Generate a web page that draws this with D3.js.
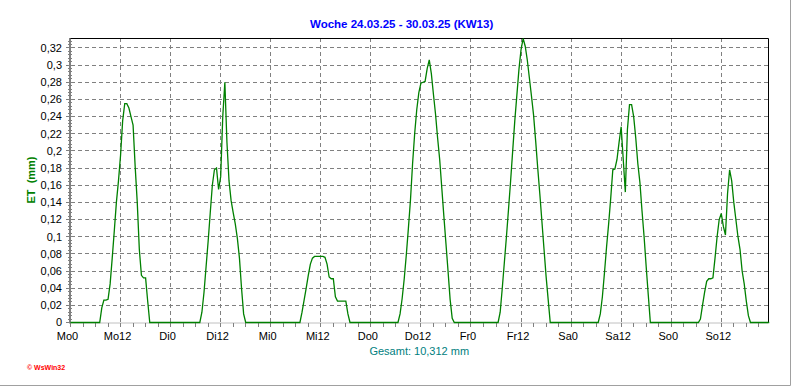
<!DOCTYPE html>
<html>
<head>
<meta charset="utf-8">
<script src="https://cdn.jsdelivr.net/npm/d3@7"></script>
<style>
  body { margin: 0; background: #fff; }
  text { font-family: "Liberation Sans", Arial, sans-serif; }
</style>
</head>
<body>
<svg id="et-chart"></svg>
<script>
// chart data (ET in mm, half-hour values, starting at riseHour of each day)
const dayNames = ["Mo", "Di", "Mi", "Do", "Fr", "Sa", "So"];
const tickHours = [0, 12];
const riseHour = [7, 7, 7, 6.5, 6.5, 6.5, 6.5];

const etMo = [0, 0.017, 0.026, 0.026, 0.027, 0.045, 0.075, 0.107, 0.14, 0.165, 0.195, 0.235, 0.255, 0.255, 0.25, 0.24, 0.23, 0.182, 0.14, 0.085, 0.055, 0.052, 0.052, 0.025, 0];
const etDi = [0, 0.012, 0.035, 0.065, 0.095, 0.128, 0.16, 0.178, 0.18, 0.155, 0.17, 0.24, 0.28, 0.21, 0.165, 0.142, 0.128, 0.115, 0.098, 0.075, 0.04, 0.01, 0];
const etMi = [0, 0.012, 0.026, 0.04, 0.055, 0.068, 0.075, 0.077, 0.077, 0.077, 0.077, 0.077, 0.076, 0.068, 0.053, 0.051, 0.051, 0.03, 0.025, 0.025, 0.025, 0.025, 0.025, 0.01, 0];
const etDo = [0, 0.01, 0.028, 0.051, 0.079, 0.11, 0.143, 0.185, 0.22, 0.248, 0.268, 0.279, 0.28, 0.281, 0.296, 0.306, 0.29, 0.266, 0.243, 0.215, 0.19, 0.157, 0.124, 0.092, 0.06, 0.027, 0.005, 0];
const etFr = [0, 0.012, 0.04, 0.07, 0.1, 0.132, 0.165, 0.2, 0.235, 0.265, 0.295, 0.318, 0.331, 0.322, 0.306, 0.285, 0.264, 0.242, 0.212, 0.18, 0.15, 0.118, 0.086, 0.054, 0.027, 0];
const etSa = [0, 0.01, 0.03, 0.058, 0.088, 0.115, 0.145, 0.178, 0.179, 0.19, 0.21, 0.228, 0.19, 0.152, 0.225, 0.254, 0.254, 0.24, 0.215, 0.185, 0.163, 0.13, 0.1, 0.065, 0.032, 0];
const etSo = [0, 0.004, 0.02, 0.035, 0.048, 0.051, 0.051, 0.052, 0.075, 0.1, 0.12, 0.127, 0.112, 0.102, 0.15, 0.178, 0.165, 0.14, 0.12, 0.1, 0.085, 0.06, 0.045, 0.025, 0.008, 0];

const yTickValues = [0, 0.02, 0.04, 0.06, 0.08, 0.1, 0.12, 0.14, 0.16, 0.18, 0.2, 0.22, 0.24, 0.26, 0.28, 0.3, 0.32];
const titleText = "Woche 24.03.25 - 30.03.25 (KW13)";
const totalText = "Gesamt: 10,312 mm";
const yLabel = "ET  (mm)";

// canvas
const width = 792;
const height = 387;
const plotLeft = 70.5;
const plotRight = 768;
const plotTop = 38;
const plotBottom = 322.5;

const svg = d3.select("#et-chart")
    .attr("width", width)
    .attr("height", height);

svg.append("rect")
    .attr("width", width)
    .attr("height", height)
    .attr("fill", "#fff");

// build the half-hour series for the week
const dayValues = [etMo, etDi, etMi, etDo, etFr, etSa, etSo];
const series = [];
dayValues.forEach((vals, d) => {
    for (let j = 0; j < 48; j++) {
        const idx = j - riseHour[d] * 2;
        const v = (idx >= 0 && idx < vals.length) ? vals[idx] : 0;
        series.push({ hour: d * 24 + j / 2, et: v });
    }
});

// scales
const xScale = d3.scaleLinear()
    .domain([0, 167.2])
    .range([plotLeft, plotRight]);

const yScale = d3.scaleLinear()
    .domain([0, 0.3316])
    .range([plotBottom, plotTop]);

const fmt = d3.formatLocale({ decimal: ",", thousands: ".", grouping: [3], currency: ["", ""] }).format("~g");

// grid
const grid = svg.append("g").attr("class", "grid")
    .attr("stroke", "#808080")
    .attr("stroke-dasharray", "4,3")
    .attr("shape-rendering", "crispEdges");

grid.selectAll(".hgrid")
    .data(yTickValues.filter(d => d > 0))
    .enter()
    .append("line")
    .attr("x1", plotLeft)
    .attr("x2", plotRight)
    .attr("y1", d => yScale(d))
    .attr("y2", d => yScale(d));

const xTicks = [];
dayNames.forEach((name, d) => tickHours.forEach(h => xTicks.push({ hour: d * 24 + h, label: name + h })));

grid.selectAll(".vgrid")
    .data(xTicks.filter(d => d.hour > 0))
    .enter()
    .append("line")
    .attr("x1", d => xScale(d.hour))
    .attr("x2", d => xScale(d.hour))
    .attr("y1", plotTop)
    .attr("y2", plotBottom);

// x axis (gray dotted) with small ticks every 3 h
svg.append("line")
    .attr("x1", plotLeft)
    .attr("x2", plotRight)
    .attr("y1", plotBottom + 0.5)
    .attr("y2", plotBottom + 0.5)
    .attr("stroke", "#808080")
    .attr("stroke-dasharray", "1,1");

svg.selectAll(".xminor")
    .data(d3.range(0, 168, 3))
    .enter()
    .append("line")
    .attr("x1", d => xScale(d))
    .attr("x2", d => xScale(d))
    .attr("y1", plotBottom)
    .attr("y2", plotBottom + 4)
    .attr("stroke", "#808080")
    .attr("shape-rendering", "crispEdges");

// y axis with minor ticks
svg.append("line")
    .attr("x1", plotLeft - 0.5)
    .attr("x2", plotLeft - 0.5)
    .attr("y1", plotTop)
    .attr("y2", plotBottom + 1)
    .attr("stroke", "#808080")
    .attr("stroke-width", 2);

svg.selectAll(".yminor")
    .data(d3.range(0, 0.332, 0.004))
    .enter()
    .append("line")
    .attr("x1", plotLeft - 3)
    .attr("x2", plotLeft + 1)
    .attr("y1", d => yScale(d))
    .attr("y2", d => yScale(d))
    .attr("stroke", "#808080")
    .attr("shape-rendering", "crispEdges");

svg.selectAll(".ymajor")
    .data(yTickValues)
    .enter()
    .append("line")
    .attr("x1", plotLeft - 5)
    .attr("x2", plotLeft)
    .attr("y1", d => yScale(d))
    .attr("y2", d => yScale(d))
    .attr("stroke", "#808080")
    .attr("shape-rendering", "crispEdges");

// frame top / right
svg.append("path")
    .attr("d", `M${plotLeft},${plotTop + 0.5}H${plotRight + 0.5}V${plotBottom}`)
    .attr("fill", "none")
    .attr("stroke", "#000");

// ET line
const line = d3.line()
    .x(d => xScale(d.hour))
    .y(d => yScale(d.et));

svg.append("path")
    .datum(series)
    .attr("fill", "none")
    .attr("stroke", "#008000")
    .attr("stroke-width", 1.3)
    .attr("d", line);

// tick labels
svg.selectAll(".ylabel")
    .data(yTickValues)
    .enter()
    .append("text")
    .attr("x", 62)
    .attr("y", d => yScale(d))
    .attr("dy", "0.35em")
    .attr("text-anchor", "end")
    .style("font-size", "11px")
    .style("fill", "#000")
    .text(d => fmt(d));

svg.selectAll(".xlabel")
    .data(xTicks)
    .enter()
    .append("text")
    .attr("x", d => xScale(d.hour) - 3)
    .attr("y", 340)
    .attr("text-anchor", "middle")
    .style("font-size", "11px")
    .style("fill", "#000")
    .text(d => d.label);

// title, axis title, total
svg.append("text")
    .attr("x", 310)
    .attr("y", 28)
    .style("font-size", "11.5px")
    .style("font-weight", "bold")
    .style("fill", "#0000ff")
    .text(titleText);

svg.append("text")
    .attr("transform", "translate(35,180) rotate(-90)")
    .attr("text-anchor", "middle")
    .style("font-size", "11px")
    .style("font-weight", "bold")
    .style("white-space", "pre")
    .style("fill", "#008000")
    .text(yLabel);

svg.append("text")
    .attr("x", (plotLeft + plotRight) / 2)
    .attr("y", 355)
    .attr("text-anchor", "middle")
    .style("font-size", "11px")
    .style("fill", "#008080")
    .text(totalText);

svg.append("text")
    .attr("x", 27)
    .attr("y", 369.5)
    .style("font-size", "7px")
    .style("font-weight", "bold")
    .style("fill", "#ff0000")
    .text("\u00a9 WsWin32");

// outer border (right / bottom)
svg.append("path")
    .attr("d", `M0,${height - 1.5}H${width - 1.5}V0`)
    .attr("fill", "none")
    .attr("stroke", "#a0a0a0");
</script>
</body>
</html>
